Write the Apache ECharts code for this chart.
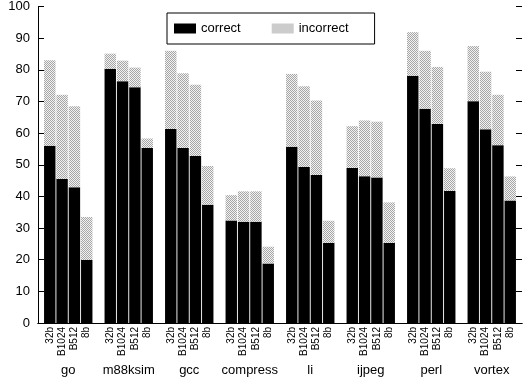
<!DOCTYPE html>
<html>
<head>
<meta charset="utf-8">
<script src="https://cdn.jsdelivr.net/npm/echarts@6/dist/echarts.min.js"></script>
<style>
  html, body { margin: 0; padding: 0; background: #fff; }
  #chart { width: 523px; height: 385px; }
</style>
</head>
<body>
<div id="chart"></div>
<script>
// benchmarks and predictor configs
var benchmarks = ['go', 'm88ksim', 'gcc', 'compress', 'li', 'ijpeg', 'perl', 'vortex'];
var configs = ['32b', 'B1024', 'B512', '8b'];

// correct (black) part of each bar
var correct32b   = [56.0, 80.3, 61.3, 32.4, 55.7, 49.0, 78.1, 70.1];
var correctB1024 = [45.5, 76.4, 55.3, 32.0, 49.3, 46.4, 67.7, 61.2];
var correctB512  = [42.9, 74.5, 52.8, 32.0, 46.8, 46.0, 62.9, 56.2];
var correct8b    = [19.9, 55.3, 37.4, 18.8, 25.3, 25.3, 41.7, 38.7];

// incorrect (dotted) part stacked on top
var incorrect32b   = [27.0, 4.8, 24.7, 8.0, 23.0, 13.2, 13.8, 17.4];
var incorrectB1024 = [26.6, 6.5, 23.6, 9.6, 25.5, 17.6, 18.3, 18.2];
var incorrectB512  = [25.6, 6.2, 22.5, 9.6, 23.5, 17.6, 18.0, 15.9];
var incorrect8b    = [13.6, 3.0, 12.2, 5.3, 7.0, 12.8, 7.2, 7.6];

var yTicks = [0, 10, 20, 30, 40, 50, 60, 70, 80, 90, 100];

var correctData = [correct32b, correctB1024, correctB512, correct8b];
var incorrectData = [incorrect32b, incorrectB1024, incorrectB512, incorrect8b];

// stipple pattern for the incorrect part
function makeDots () {
  var c = document.createElement('canvas');
  c.width = 2; c.height = 2;
  var ctx = c.getContext('2d');
  ctx.fillStyle = '#f2f2f2';
  ctx.fillRect(0, 0, 2, 2);
  ctx.fillStyle = '#a6a6a6';
  ctx.fillRect(0, 0, 1, 1);
  ctx.fillRect(1, 1, 1, 1);
  return c;
}
var dots = { image: makeDots(), repeat: 'repeat' };

var font = 'Liberation Sans, Arial, Helvetica, sans-serif';

var series = [];
configs.forEach(function (cfg, i) {
  series.push({
    name: 'correct',
    type: 'bar',
    stack: cfg,
    data: correctData[i],
    barGap: '8%',
    barCategoryGap: '20%',
    itemStyle: { color: '#000' },
    label: {
      show: true,
      position: 'bottom',
      distance: 4,
      rotate: 90,
      align: 'right',
      verticalAlign: 'middle',
      formatter: cfg,
      fontSize: 10,
      fontFamily: font,
      color: '#000'
    }
  });
  series.push({
    name: 'incorrect',
    type: 'bar',
    stack: cfg,
    data: incorrectData[i],
    itemStyle: { color: dots }
  });
});

var option = {
  animation: false,
  backgroundColor: '#fff',
  textStyle: { fontFamily: font },
  grid: { left: 38, right: 1, top: 6, bottom: 62 },
  legend: {
    data: ['correct', 'incorrect'],
    left: 167,
    top: 13,
    padding: [9, 26, 9, 7],
    itemWidth: 22,
    itemHeight: 10,
    itemGap: 31,
    borderColor: '#000',
    borderWidth: 1,
    icon: 'rect',
    textStyle: { fontSize: 13, color: '#000', fontFamily: font }
  },
  xAxis: [{
    type: 'category',
    data: benchmarks,
    axisLine: { lineStyle: { color: '#000', width: 1 } },
    axisTick: { show: false },
    axisLabel: { interval: 0, margin: 41, fontSize: 13, color: '#000', fontFamily: font }
  }, {
    type: 'category',
    position: 'top',
    data: benchmarks,
    axisLine: { show: true, lineStyle: { color: '#000', width: 1 } },
    axisTick: { show: false },
    axisLabel: { show: false }
  }],
  yAxis: [{
    type: 'value',
    min: 0,
    max: 100,
    interval: 10,
    axisLine: { show: true, lineStyle: { color: '#000' } },
    axisTick: { show: true, inside: true, length: 6, lineStyle: { color: '#000' } },
    splitLine: { show: false },
    axisLabel: {
      fontSize: 13, color: '#000', fontFamily: font, margin: 8,
      formatter: function (v) { return yTicks.indexOf(v) >= 0 ? String(v) : ''; }
    }
  }, {
    type: 'value',
    position: 'right',
    min: 0,
    max: 100,
    interval: 10,
    axisLine: { show: false },
    axisTick: { show: true, inside: true, length: 6, lineStyle: { color: '#000' } },
    splitLine: { show: false },
    axisLabel: { show: false }
  }],
  series: series
};

var myChart = echarts.init(document.getElementById('chart'), null, { renderer: 'canvas' });
myChart.setOption(option);
</script>
</body>
</html>
